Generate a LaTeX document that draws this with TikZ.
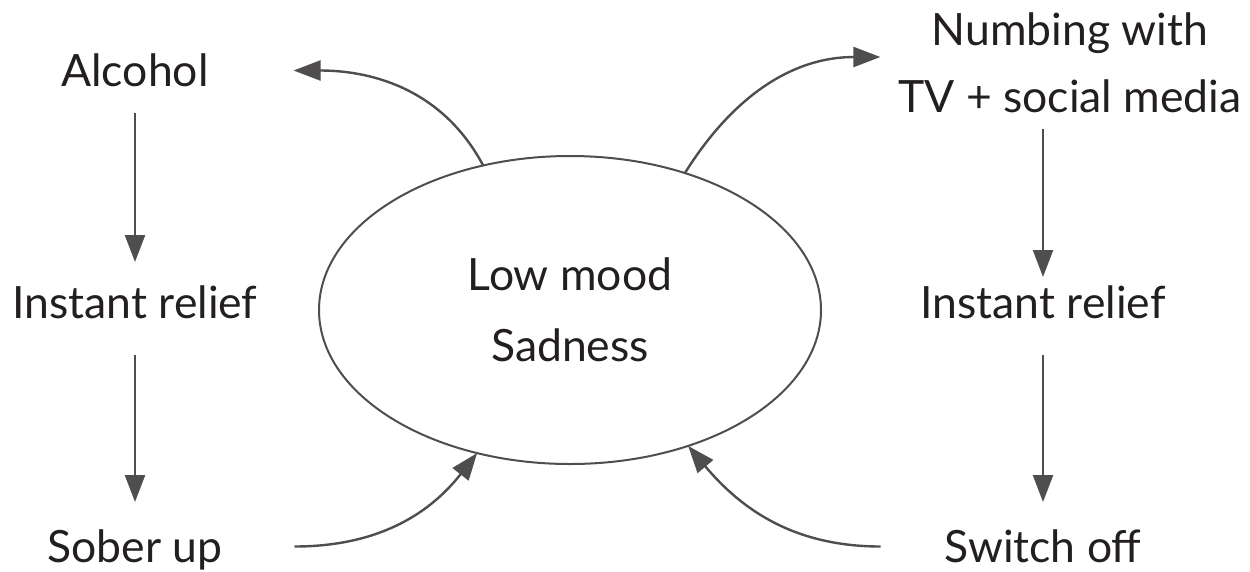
\documentclass[tikz,border=0pt]{standalone}
\usepackage{fontspec}
\setmainfont{Lato}
\usepackage{xcolor}
\usetikzlibrary{math,arrows.meta,shapes.geometric}
\definecolor{inkText}{HTML}{231F20}
\definecolor{lineGray}{HTML}{4F4D4D}
\tikzset{
  baseline = (current bounding box.center),
  word/.style = {inner sep=0pt, outer sep=0pt, text height=31pt, text depth=0pt,
    text=inkText, font=\fontsize{44.5}{67}\selectfont},
  flow/.style = {draw=lineGray, line width=2.4pt,
    -{Triangle[length=27pt,width=20pt]}}
}

\begin{document}
\begin{tikzpicture}[x=1pt,y=-1pt]
    \tikzmath{
      \colL = 135;
      \colR = 1043;
      \rowA = 86;
      \rowB = 318;
      \rowC = 562;
      \moodX = 570;
      \moodY = 310;
    }
    \useasboundingbox (0,0) rectangle (1250,571);
    \node[word,anchor=base] (alcohol) at (\colL, \rowA) {Alcohol};
    \node[word,anchor=base] (reliefL) at (\colL, \rowB) {Instant relief};
    \node[word,anchor=base] (sober) at (\colL, \rowC) {Sober up};
    \node[word,anchor=base] (reliefR) at (\colR, \rowB) {Instant relief};
    \node[word,anchor=base] (switch) at (\colR, \rowC) {Switch off};
    \node[word,text height=,align=center] (numbing) at (1070, 63)
    {Numbing with\\TV + social media};
    \node[word,text height=,align=center,font=\fontsize{44.5}{71}\selectfont,
      ellipse,draw=lineGray,line width=2pt,
      minimum width=502pt,minimum height=308pt] (mood) at (\moodX, \moodY)
    {Low mood\\Sadness};
    \coordinate (alcoholIn) at ([xshift=85pt]alcohol.east);
    \coordinate (numbingIn) at ([shift={(-18pt,6pt)}]numbing.west);
    \coordinate (soberOut) at ([xshift=72pt]sober.east);
    \coordinate (switchOut) at ([xshift=-64pt]switch.west);
    \draw[flow,shorten <=27pt,shorten >=25pt] (alcohol.south) -- (reliefL.north);
    \draw[flow,shorten <=37pt,shorten >=29pt] (reliefL.south) -- (sober.north);
    \draw[flow,shorten <=16pt,shorten >=10pt]
    (reliefR.north |- numbing.south) -- (reliefR.north);
    \draw[flow,shorten <=37pt,shorten >=29pt] (reliefR.south) -- (switch.north);
    \draw[flow] (mood.121) to[out=118,in=0] (alcoholIn);
    \draw[flow] (mood.50) to[out=58,in=180] (numbingIn);
    \draw[flow] (soberOut) to[out=0,in=232] (mood.237);
    \draw[flow] (switchOut) to[out=180,in=-50] (mood.311);
  \end{tikzpicture}
\end{document}
